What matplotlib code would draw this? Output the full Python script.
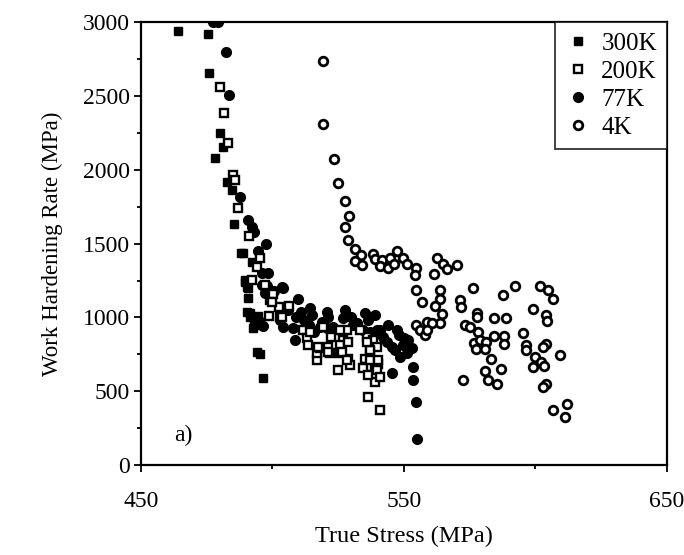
import matplotlib.pyplot as plt
from matplotlib.ticker import MultipleLocator, FixedLocator

plt.rcParams['font.family'] = ['Liberation Serif', 'DejaVu Serif']

# 300K - filled squares
x300 = [464, 475.5, 475.9, 480, 481.2, 478.1, 482.7, 484.6, 485.5, 487.9, 492.1, 489.5,
        490.2, 490.8, 491.4, 493.3, 494.2, 495.2, 496.3, 490.5, 491.5, 493, 492.5, 494.5,
        489.5, 490.8, 488.9]
y300 = [2939, 2919, 2655, 2248, 2154, 2079, 1917, 1862, 1635, 1434, 1376, 1253,
        1203, 1133, 1027, 948, 767, 752, 587, 1040, 1000, 960, 930, 1010,
        1241, 1197, 1434]

# 200K - open squares
x200 = [480, 481.6, 483.1, 485, 485.7, 486.9, 491.2, 495.2, 494, 492.4, 497.5, 499,
        500.3, 502.6, 506.3, 498.8, 502.8, 497.1, 499.7, 503.5, 511.7, 513, 513.6, 516.8,
        516.8, 518.1, 521.2, 521.9, 525.7, 525, 528.8, 529.5, 528.2, 527, 535.8, 538.3,
        539.6, 537.1, 535.2, 537.7, 540.2, 535.8, 539.6, 539, 536.4, 540.9, 534.5, 537.1,
        540.2, 536.4, 540.9, 514.3, 519.3, 522.4, 525.7, 525.7, 528.8, 533.3, 537.1, 535.8,
        517.4, 521.2, 526.3, 528.2]
y200 = [2560, 2384, 2181, 1964, 1930, 1740, 1551, 1406, 1343, 1257, 1203, 1117,
        1158, 1068, 1077, 1009, 1000, 1219, 1106, 1000, 914, 858, 813, 711,
        756, 790, 801, 756, 756, 643, 722, 677, 914, 846, 869, 846,
        801, 767, 722, 677, 688, 666, 643, 564, 462, 372, 655, 711,
        711, 609, 598, 903, 937, 869, 914, 813, 835, 914, 779, 835,
        801, 767, 767, 711]

# 77K - filled circles
x77 = [477.5, 479.5, 482.3, 483.5, 487.6, 490.7, 492.1, 493, 497.5, 494.6, 498.4, 495.9,
       495.9, 498, 500.6, 504.1, 497.1, 500.3, 503.8, 509.8, 514.3, 495, 496.5, 502.8,
       504.1, 508.6, 520.8, 521.2, 518.7, 518.1, 520.6, 523.1, 527.6, 527, 525.7, 530.7,
       535.2, 539, 536.4, 534.5, 537.1, 539.6, 540.9, 542.1, 543.4, 545.3, 546.6, 547.2,
       549.7, 551.6, 552.9, 551, 548.5, 545.3, 553.5, 553.5, 554.6, 555,
       506, 509, 512, 515, 511, 508, 514, 516, 530, 532, 544, 548, 550]
y77 = [3000, 3000, 2797, 2506, 1815, 1659, 1614, 1580, 1497, 1451, 1302, 1298,
       1219, 1212, 1180, 1197, 1163, 1174, 1208, 1122, 1061, 975, 940, 982,
       937, 846, 1038, 1000, 971, 937, 926, 937, 1050, 993, 914, 948,
       1027, 1016, 982, 914, 903, 914, 914, 869, 835, 801, 779, 914,
       813, 846, 790, 756, 733, 621, 666, 576, 429, 178,
       1050, 1000, 980, 1020, 1040, 930, 950, 900, 1000, 960, 950, 880, 860]

# 4K - open circles
x4 = [519.2, 519.2, 523.4, 524.9, 527.6, 529.1, 527.6, 528.7, 531.4, 533.6, 531.4, 534.1,
      538.3, 539.2, 541.7, 541.1, 544, 544.7, 547.2, 546.2, 549.5, 551.2, 554.6, 554.1,
      561.4, 562.7, 564.7, 566.2, 570, 554.6, 556.7, 563.7, 563.7, 562, 564.3, 563.7,
      554.6, 556.1, 558, 558.9, 560.5, 558.6, 576.1, 571.3, 571.9, 577.9, 577.9, 573.2,
      575.3, 578.3, 576.6, 578.9, 581.2, 577.6, 580.8, 584.2, 584.2, 589, 587.8, 592.4,
      588.2, 588.2, 595.1, 583.3, 580.8, 586.8, 582.1, 585.5, 572.5, 601.9, 604.8, 606.7,
      599.2, 604, 604.5, 596.4, 596.4, 604, 603, 599.8, 602.3, 603.2, 599.2, 609.5,
      604.2, 603, 606.7, 612, 611.3]
y4 = [2736, 2309, 2072, 1910, 1790, 1686, 1610, 1524, 1467, 1422, 1384, 1354,
      1429, 1395, 1388, 1348, 1332, 1406, 1449, 1361, 1406, 1361, 1332, 1287,
      1293, 1406, 1361, 1327, 1354, 1185, 1106, 1185, 1124, 1079, 1023, 960,
      948, 914, 880, 971, 960, 914, 1197, 1117, 1068, 1032, 1000, 948,
      932, 903, 828, 846, 835, 783, 783, 874, 993, 993, 1151, 1212,
      874, 819, 892, 722, 639, 648, 576, 549, 576, 1212, 1185, 1128,
      1056, 1020, 977, 813, 779, 819, 797, 733, 700, 670, 666, 745,
      549, 526, 372, 411, 323]

fig = plt.figure(figsize=(6.84, 5.55), dpi=100)
ax = fig.add_axes([0.206, 0.162, 0.769, 0.798])

ax.plot(x77, y77, 'o', color='black', markersize=7, linestyle='none', label='77K', zorder=2)
ax.plot(x300, y300, 's', color='black', markersize=6.4, linestyle='none', label='300K', zorder=2)
ax.plot(x4, y4, 'o', mfc='white', mec='black', mew=2, markersize=6.2, linestyle='none',
        label='4K', zorder=3)
ax.plot(x200, y200, 's', mfc='white', mec='black', mew=1.7, markersize=5.6, linestyle='none',
        label='200K', zorder=3)

ax.set_xlim(450, 650)
ax.set_ylim(0, 3000)
ax.xaxis.set_major_locator(FixedLocator([450, 550, 650]))
ax.xaxis.set_minor_locator(FixedLocator([500, 600]))
ax.yaxis.set_major_locator(MultipleLocator(500))
ax.yaxis.set_minor_locator(MultipleLocator(250))
ax.tick_params(which='both', direction='out', width=1.3, labelsize=17, color='black')
ax.tick_params(which='major', length=5)
ax.tick_params(which='minor', length=3)
ax.tick_params(axis='x', pad=14)
ax.tick_params(axis='y', pad=3)
for s in ax.spines.values():
    s.set_linewidth(1.6)

ax.set_xlabel('True Stress (MPa)', fontsize=17.5, labelpad=10)
ax.set_ylabel('Work Hardening Rate (MPa)', fontsize=16.5, labelpad=14)
ax.text(462.5, 200, 'a)', fontsize=17, va='center')

h, l = ax.get_legend_handles_labels()
order = [l.index(k) for k in ['300K', '200K', '77K', '4K']]
leg = ax.legend([h[i] for i in order], [l[i] for i in order], loc='upper right',
                fontsize=18, frameon=True, fancybox=False, edgecolor='black',
                borderaxespad=0, handletextpad=0.45, handlelength=1.0,
                labelspacing=0.22, borderpad=0.4)
leg.get_frame().set_linewidth(1.3)

fig.savefig('out.png', dpi=100)
